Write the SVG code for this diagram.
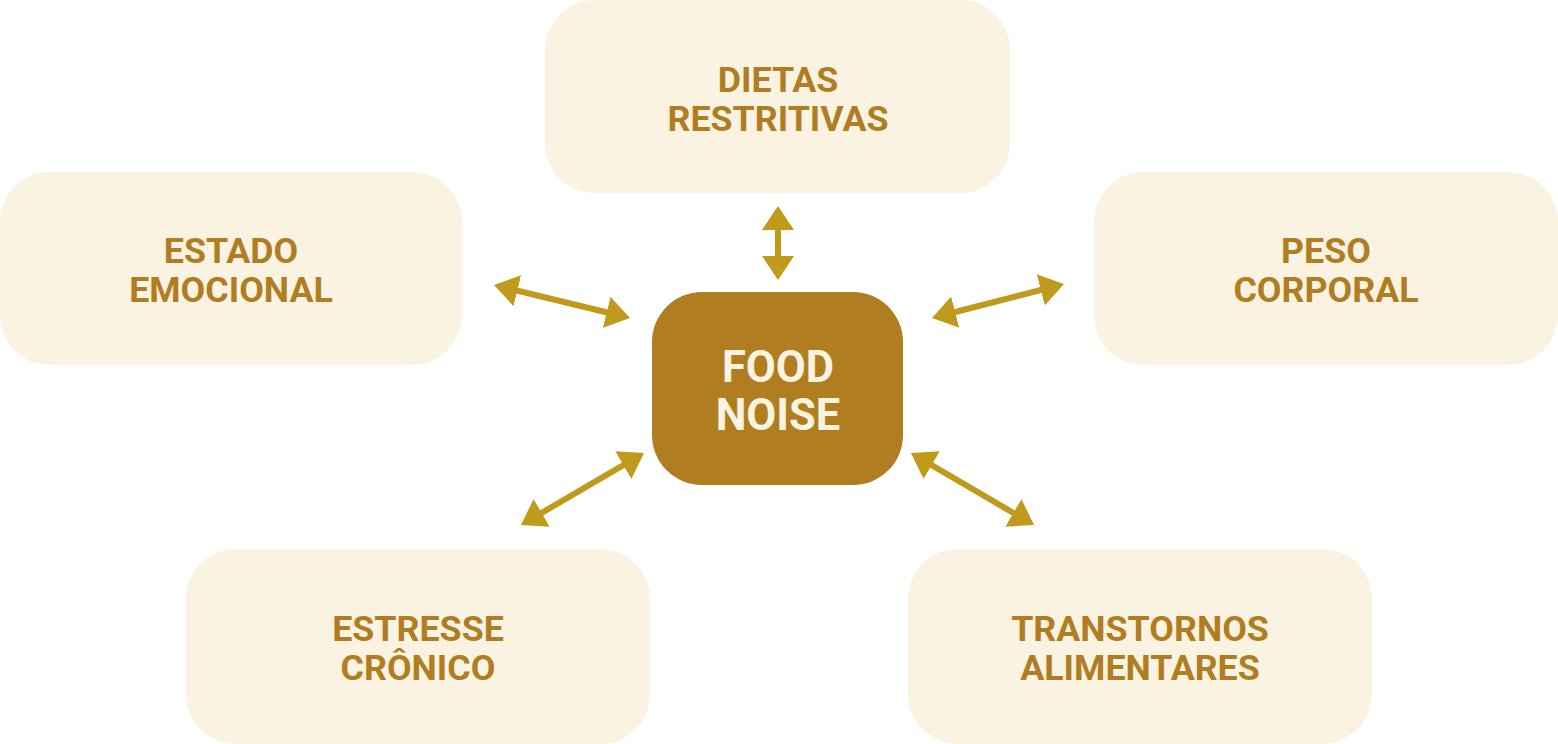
<svg xmlns="http://www.w3.org/2000/svg" width="1558" height="744" viewBox="0 0 1558 744">
<style>
.box{fill:#FBF3E1}
.lbl{font-family:Roboto,"Liberation Sans",sans-serif;font-weight:700;font-size:35.8px;fill:#B07D22;text-anchor:middle}
.center{fill:#B07D20}
.clbl{font-family:Roboto,"Liberation Sans",sans-serif;font-weight:700;font-size:43.5px;fill:#FBF3E1;text-anchor:middle}
.arr{stroke:#C09A1A;stroke-width:6;fill:none;marker-start:url(#ah);marker-end:url(#ah)}
</style>
<defs>
<marker id="ah" viewBox="0 0 24 32" refX="6" refY="16" markerWidth="24" markerHeight="32" markerUnits="userSpaceOnUse" orient="auto-start-reverse">
<path d="M0,0 L24,16 L0,32 Z" fill="#C09A1A"/>
</marker>
</defs>
<g id="dietas">
<rect class="box" x="545" y="0" width="465" height="193" rx="50"/>
<text class="lbl" x="778" y="92">DIETAS</text>
<text class="lbl" x="778" y="131">RESTRITIVAS</text>
</g>
<g id="estado">
<rect class="box" x="0" y="172" width="462" height="193" rx="50"/>
<text class="lbl" x="231" y="263">ESTADO</text>
<text class="lbl" x="231" y="302">EMOCIONAL</text>
</g>
<g id="peso">
<rect class="box" x="1094" y="172" width="464" height="193" rx="50"/>
<text class="lbl" x="1326" y="263">PESO</text>
<text class="lbl" x="1326" y="302">CORPORAL</text>
</g>
<g id="estresse">
<rect class="box" x="186" y="549" width="464" height="195" rx="50"/>
<text class="lbl" x="418" y="641">ESTRESSE</text>
<text class="lbl" x="418" y="680">CRÔNICO</text>
</g>
<g id="transtornos">
<rect class="box" x="908" y="549" width="464" height="195" rx="50"/>
<text class="lbl" x="1140" y="641">TRANSTORNOS</text>
<text class="lbl" x="1140" y="680">ALIMENTARES</text>
</g>
<g id="foodnoise">
<rect class="center" x="652" y="292" width="251" height="193" rx="50"/>
<text class="clbl" x="778" y="382">FOOD</text>
<text class="clbl" x="778" y="430">NOISE</text>
</g>
<g id="connectors">
<line class="arr" x1="511.5" y1="289.25" x2="612.5" y2="313.75"/>
<line class="arr" x1="778" y1="224" x2="778" y2="262"/>
<line class="arr" x1="949.4" y1="313.5" x2="1046.6" y2="288.5"/>
<line class="arr" x1="536.5" y1="515.9" x2="628.5" y2="462.1"/>
<line class="arr" x1="926.5" y1="462.1" x2="1018.5" y2="515.9"/>
</g>
</svg>
